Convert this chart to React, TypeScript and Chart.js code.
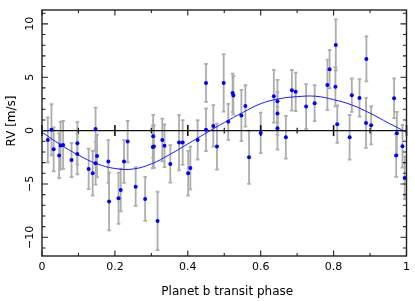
import React, { useEffect, useRef } from "react";
import { Chart, registerables } from "chart.js";

Chart.register(...registerables);

// Observed RV points (phase, RV [m/s], 1-sigma error)
const PHASE = [
  0.016, 0.026, 0.032, 0.047, 0.051, 0.058, 0.081, 0.097, 0.097, 0.128,
  0.139, 0.147, 0.147, 0.151, 0.182, 0.184, 0.21, 0.216, 0.225, 0.235,
  0.257, 0.283, 0.317, 0.305, 0.304, 0.307, 0.33, 0.336, 0.352, 0.376,
  0.386, 0.401, 0.407, 0.427, 0.45, 0.45, 0.47, 0.48, 0.4985, 0.511,
  0.523, 0.525, 0.547, 0.558, 0.568, 0.6, 0.636, 0.646, 0.646, 0.646,
  0.669, 0.6855, 0.696, 0.7246, 0.748, 0.783, 0.789, 0.806, 0.805, 0.81,
  0.844, 0.85, 0.871, 0.889, 0.903, 0.89, 0.966, 0.9735, 0.9716, 0.989,
  0.995,
];
const RV = [
  -0.87, 0.07, -1.75, -2.34, -1.4, -1.34, -2.75, -1.19, -2.2, -3.59,
  -4.0, 0.16, -3.06, -2.37, -2.9, -6.65, -6.34, -5.56, -2.9, -1.03,
  -5.25, -6.4, -8.46, -0.53, -1.53, -1.5, -0.87, -1.43, -3.12, -1.12,
  -1.12, -4.0, -3.5, -0.87, 4.47, 0.07, 0.44, -1.5, 4.47, 0.82,
  3.53, 3.3, 1.41, 2.31, -2.5, -0.22, 3.22, 2.75, 1.6, 0.22,
  -0.62, 3.78, 3.63, 2.25, 2.57, 4.28, 5.75, 8.03, 4.12, 0.6,
  -0.62, 3.32, 3.06, 0.72, 0.5, 6.72, 3.03, -0.25, -2.34, -1.47,
  -4.43,
];
const RV_ERR = [
  2.1, 2.4, 2.06, 2.1, 2.25, 2.25, 1.6, 2.0, 1.9, 1.9,
  2.1, 2.0, 2.0, 2.0, 2.0, 2.7, 2.4, 2.0, 2.0, 1.95,
  1.8, 2.06, 2.73, 2.0, 2.0, 2.0, 2.0, 2.0, 1.75, 2.6,
  2.1, 2.1, 2.0, 1.84, 1.78, 2.0, 1.94, 2.15, 2.7, 1.69,
  1.8, 1.8, 2.4, 1.94, 2.5, 1.9, 2.47, 2.0, 2.0, 2.0,
  2.0, 1.9, 1.8, 2.1, 1.69, 2.37, 1.8, 2.4, 1.84, 1.75,
  2.1, 1.56, 1.75, 2.34, 1.8, 2.1, 1.87, 2.0, 2.0, 2.0,
  2.0,
];

// Model curve
const MODEL_PHASE = [
  0, 0.05, 0.1, 0.15, 0.2, 0.25, 0.3, 0.35, 0.4, 0.45, 0.5,
  0.55, 0.6, 0.65, 0.7, 0.75, 0.8, 0.85, 0.9, 0.95, 1.0,
];
const MODEL_RV = [
  -0.15, -1.3, -2.3, -3.1, -3.55, -3.6, -3.12, -2.25, -1.25, -0.23, 0.75,
  1.68, 2.52, 2.98, 3.18, 3.22, 2.9, 2.4, 1.63, 0.72, -0.15,
];

const X_TICKS = [0, 0.1, 0.2, 0.3, 0.4, 0.5, 0.6, 0.7, 0.8, 0.9, 1.0];
const X_LABELS = ["0", "", "0.2", "", "0.4", "", "0.6", "", "0.8", "", "1"];
const Y_TICKS = [-11, -10, -9, -8, -7, -6, -5, -4, -3, -2, -1, 0, 1, 2, 3, 4, 5, 6, 7, 8, 9, 10, 11];
const Y_LABEL_MAP: Record<string, string> = { "-10": "\u221210", "-5": "\u22125", "0": "0", "5": "5", "10": "10" };

const X_TITLE = "\u2002Planet b transit phase";
const Y_TITLE = "\u2002\u2002\u2002\u2002RV [m/s]";

const X_MIN = 0;
const X_MAX = 1;
const Y_MIN = -11.75;
const Y_MAX = 11.3;

const TICK_FONT = { family: "'DejaVu Sans', sans-serif", size: 11 };
const TITLE_FONT = { family: "'DejaVu Sans', sans-serif", size: 12 };

const framePlugin = {
  id: "pgframe",
  beforeDatasetsDraw(chart: any) {
    const { ctx, chartArea: a, scales } = chart;
    const xs = scales.x;
    const ys = scales.y;
    ctx.save();
    // error bars
    ctx.strokeStyle = "#adadad";
    ctx.lineWidth = 1.8;
    for (let i = 0; i < PHASE.length; i++) {
      const px = xs.getPixelForValue(PHASE[i]);
      const yt = ys.getPixelForValue(RV[i] + RV_ERR[i]);
      const yb = ys.getPixelForValue(RV[i] - RV_ERR[i]);
      ctx.beginPath();
      ctx.moveTo(px, yt);
      ctx.lineTo(px, yb);
      ctx.moveTo(px - 1.8, yt);
      ctx.lineTo(px + 1.8, yt);
      ctx.moveTo(px - 1.8, yb);
      ctx.lineTo(px + 1.8, yb);
      ctx.stroke();
    }
    // zero line with ticks
    const y0 = ys.getPixelForValue(0);
    ctx.strokeStyle = "#111";
    ctx.lineWidth = 1.3;
    ctx.beginPath();
    ctx.moveTo(a.left, y0);
    ctx.lineTo(a.right, y0);
    ctx.stroke();
    X_TICKS.forEach((v, i) => {
      const px = xs.getPixelForValue(v);
      const major = X_LABELS[i] !== "";
      const len = major ? 5.5 : 2.8;
      ctx.lineWidth = major ? 1.6 : 1.2;
      ctx.beginPath();
      ctx.moveTo(px, y0 - len);
      ctx.lineTo(px, y0 + len);
      ctx.stroke();
    });
    ctx.restore();
  },
  afterDatasetsDraw(chart: any) {
    const { ctx, chartArea: a, scales } = chart;
    const xs = scales.x;
    const ys = scales.y;
    ctx.save();
    ctx.strokeStyle = "#222";
    ctx.lineWidth = 1.4;
    ctx.strokeRect(a.left, a.top, a.right - a.left, a.bottom - a.top);
    ctx.lineWidth = 1.1;
    X_TICKS.forEach((v, i) => {
      const px = xs.getPixelForValue(v);
      const major = X_LABELS[i] !== "";
      const len = major ? 5.5 : 3;
      ctx.beginPath();
      ctx.moveTo(px, a.bottom);
      ctx.lineTo(px, a.bottom - len);
      ctx.moveTo(px, a.top);
      ctx.lineTo(px, a.top + len);
      ctx.stroke();
    });
    Y_TICKS.forEach((v) => {
      const py = ys.getPixelForValue(v);
      const major = v % 5 === 0;
      const len = major ? 6 : 3.5;
      ctx.beginPath();
      ctx.moveTo(a.left, py);
      ctx.lineTo(a.left + len, py);
      ctx.moveTo(a.right, py);
      ctx.lineTo(a.right - len, py);
      ctx.stroke();
    });
    ctx.restore();
  },
};

export default function App() {
  const ref = useRef<HTMLCanvasElement>(null);
  useEffect(() => {
    if (!ref.current) return;
    const chart = new Chart(ref.current, {
      type: "scatter",
      data: {
        datasets: [
          {
            label: "RV",
            data: PHASE.map((p, i) => ({ x: p, y: RV[i] })),
            pointRadius: 2,
            pointBackgroundColor: "#0000ff",
            pointBorderWidth: 0,
            showLine: false,
          },
          {
            label: "model",
            data: MODEL_PHASE.map((p, i) => ({ x: p, y: MODEL_RV[i] })),
            showLine: true,
            borderColor: "#1a1aff",
            borderWidth: 1,
            pointRadius: 0,
            tension: 0.4,
            fill: false,
          },
        ],
      },
      options: {
        responsive: false,
        animation: false,
        devicePixelRatio: 1,
        layout: { padding: { left: 0, right: 8, top: 10, bottom: 0 } },
        plugins: { legend: { display: false }, tooltip: { enabled: false } },
        scales: {
          x: {
            type: "linear",
            min: X_MIN,
            max: X_MAX,
            afterBuildTicks: (s: any) => {
              s.ticks = X_TICKS.map((v) => ({ value: v }));
            },
            ticks: {
              autoSkip: false,
              maxRotation: 0,
              minRotation: 0,
              padding: 5,
              color: "#000",
              font: TICK_FONT,
              callback: (_v: any, i: number) => X_LABELS[i],
            },
            grid: { display: false, drawTicks: false },
            border: { display: false },
            title: {
              display: true,
              text: X_TITLE,
              color: "#000",
              font: TITLE_FONT,
              padding: { top: 0, bottom: 2 },
            },
            afterFit: (s: any) => {
              s.height = 45;
            },
          },
          y: {
            type: "linear",
            min: Y_MIN,
            max: Y_MAX,
            afterBuildTicks: (s: any) => {
              s.ticks = Y_TICKS.map((v) => ({ value: v }));
            },
            ticks: {
              autoSkip: false,
              minRotation: 90,
              maxRotation: 90,
              crossAlign: "center",
              padding: 0,
              color: "#000",
              font: TICK_FONT,
              callback: (v: any) => Y_LABEL_MAP[String(v)] ?? "",
            },
            grid: { display: false, drawTicks: false },
            border: { display: false },
            title: {
              display: true,
              text: Y_TITLE,
              color: "#000",
              font: TITLE_FONT,
              padding: { top: 5, bottom: 0 },
            },
            afterFit: (s: any) => {
              s.width = 42;
            },
          },
        },
      },
      plugins: [framePlugin],
    } as any);
    return () => chart.destroy();
  }, []);
  return (
    <canvas
      ref={ref}
      width={415}
      height={301}
      style={{ position: "absolute", left: 0, top: 0, width: 415, height: 301 }}
    />
  );
}
